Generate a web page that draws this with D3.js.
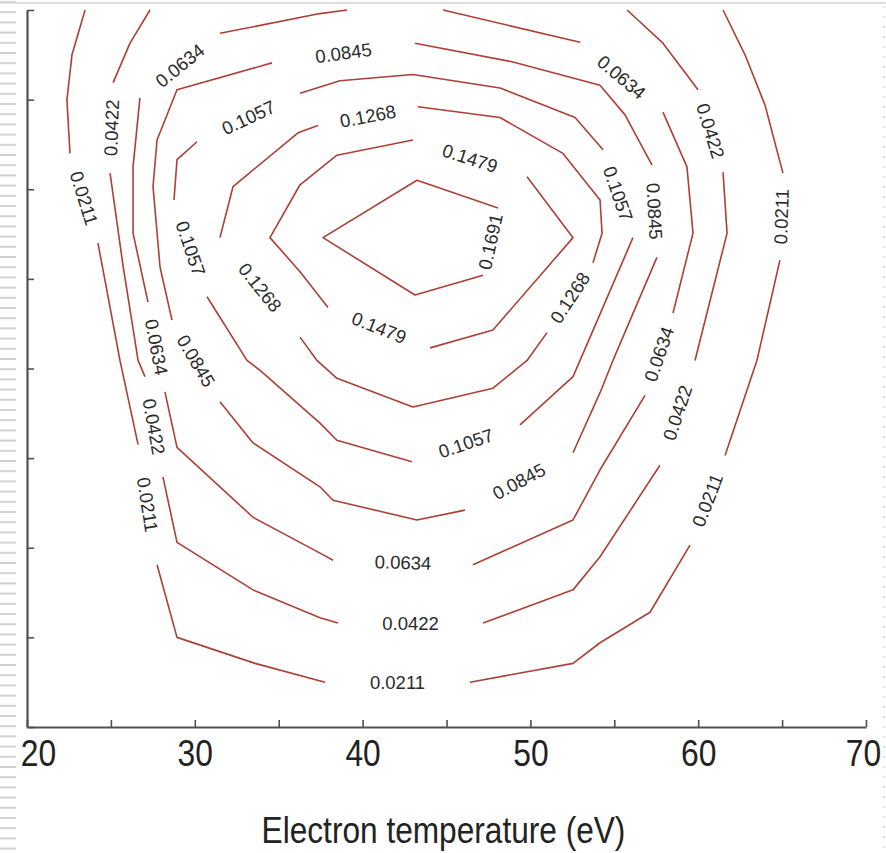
<!DOCTYPE html>
<html>
<head>
<meta charset="utf-8">
<script src="https://cdn.jsdelivr.net/npm/d3@7/dist/d3.min.js"></script>
<style>
  body { margin: 0; background: #fff; }
  svg { display: block; font-family: "Liberation Sans", Arial, Helvetica, sans-serif; }
</style>
</head>
<body>
<svg id="chart" width="886" height="853"></svg>
<script>
// Contour levels and which of them close on themselves
const levels = [0.0211, 0.0422, 0.0634, 0.0845, 0.1057, 0.1268, 0.1479, 0.1691];
const closedLevels = [false, false, false, true, true, true, true, true];

// Each contour is a list of pieces [temperature (eV), y]; a label sits in every gap between pieces
const line0211 = [
  [[23.46, 8.00], [22.68, 7.50], [22.38, 7.00], [22.56, 6.40]],
  [[24.23, 5.40], [25.54, 4.09], [26.62, 3.15]],
  [[27.75, 1.81], [28.94, 1.00], [33.59, 0.71], [37.76, 0.50]],
  [[46.40, 0.50], [52.54, 0.71], [54.15, 0.94], [57.13, 1.28], [59.51, 2.03]],
  [[61.60, 3.03], [63.50, 4.09], [64.87, 5.21]],
  [[65.05, 6.18], [63.98, 6.94], [62.79, 7.50], [61.48, 8.00]]
];
const line0422 = [
  [[27.33, 8.00], [26.14, 7.63], [25.13, 7.19]],
  [[24.95, 6.18], [25.72, 5.15], [26.62, 4.09], [27.03, 3.91]],
  [[28.10, 2.79], [28.94, 2.06], [33.47, 1.53], [37.46, 1.22], [38.53, 1.16]],
  [[47.18, 1.16], [52.54, 1.53], [54.15, 1.90], [57.72, 2.92]],
  [[59.81, 4.09], [61.72, 5.51], [61.48, 6.19]],
  [[59.99, 7.11], [57.90, 7.63], [55.76, 8.00]]
];
const line0634 = [
  [[39.07, 8.00], [37.46, 7.96], [31.50, 7.74]],
  [[26.73, 7.02], [26.32, 6.25], [26.32, 5.51], [27.21, 4.74]],
  [[28.22, 3.74], [28.94, 3.12], [33.47, 2.34], [37.46, 1.94], [38.24, 1.86]],
  [[46.58, 1.81], [52.54, 2.31], [54.15, 2.87], [56.83, 3.70]],
  [[58.50, 4.62], [59.69, 5.51], [59.33, 6.25], [57.90, 6.86]],
  [[52.96, 7.64], [44.79, 8.00]]
];
const line0845 = [
  [[43.12, 7.63], [48.96, 7.42], [54.15, 7.16], [55.64, 6.83], [57.25, 6.27]],
  [[57.54, 5.24], [54.92, 4.09], [54.15, 3.73], [52.54, 3.06]],
  [[46.10, 2.42], [43.24, 2.31], [38.24, 2.53], [37.46, 2.68], [33.47, 3.17], [31.50, 3.63]],
  [[28.64, 4.54], [27.93, 5.13], [27.51, 6.03], [27.75, 6.55], [28.94, 7.11], [34.60, 7.41]]
];
const line1057 = [
  [[36.27, 7.07], [38.65, 7.21], [43.00, 7.28], [48.19, 7.13], [52.66, 6.80], [54.33, 6.44]],
  [[56.11, 5.46], [52.96, 4.09], [52.54, 3.91], [49.38, 3.37]],
  [[42.94, 2.96], [38.47, 3.20], [37.46, 3.39], [33.89, 3.98], [33.11, 4.09], [30.73, 4.80]],
  [[28.76, 5.88], [28.94, 6.33], [30.13, 6.53]]
];
const line1268 = [
  [[43.30, 6.92], [48.19, 6.80], [51.94, 6.40], [54.15, 5.88], [54.27, 5.51], [53.73, 5.18]],
  [[50.99, 4.40], [49.80, 4.09], [47.77, 3.78], [43.00, 3.57], [38.47, 3.89], [37.28, 4.09], [36.27, 4.35]],
  [[31.50, 5.46], [32.28, 6.03], [36.15, 6.63], [37.34, 6.71]]
];
const line1479 = [
  [[49.80, 6.14], [52.54, 5.46], [47.77, 4.43], [44.02, 4.23]],
  [[37.94, 4.68], [36.27, 5.08], [34.48, 5.46], [36.27, 6.05], [38.47, 6.38], [43.00, 6.55]]
];
const line1691 = [
  [[47.18, 5.04], [43.12, 4.82], [37.64, 5.46], [43.24, 6.10], [48.07, 5.79]]
];
const contourLines = [line0211, line0422, line0634, line0845, line1057, line1268, line1479, line1691];

// Axis ticks
const xTicks = [20, 25, 30, 35, 40, 45, 50, 55, 60, 65, 70];
const xTickLabels = [20, 30, 40, 50, 60, 70];
const yTicks = [0, 1, 2, 3, 4, 5, 6, 7, 8];
const xTitle = "Electron temperature (eV)";

const svg = d3.select("#chart");
const W = 886, H = 853;

svg.append("rect").attr("width", W).attr("height", H).attr("fill", "#fff");

// page edge decoration: striped left margin, dotted right edge, thin top rule
const edge = svg.append("g").attr("class", "edge");
edge.selectAll("rect.stripe")
  .data(d3.range(1, H, 10.2))
  .join("rect")
  .attr("class", "stripe")
  .attr("x", 0).attr("y", d => d)
  .attr("width", 16).attr("height", 2)
  .attr("fill", "#d2d2d2");
edge.append("line")
  .attr("x1", 0).attr("x2", W).attr("y1", 3).attr("y2", 3)
  .attr("stroke", "#dedede").attr("stroke-width", 2);
edge.append("line")
  .attr("x1", 884).attr("x2", 884).attr("y1", 6).attr("y2", H)
  .attr("stroke", "#d4d4d4").attr("stroke-width", 1.5)
  .attr("stroke-dasharray", "2 8");

const x = d3.scaleLinear().domain([20, 70]).range([27, 866]);
const y = d3.scaleLinear().domain([0, 8]).range([727, 10]);

// contour lines
const lineGen = d3.line().x(d => x(d[0])).y(d => y(d[1]));
const contours = svg.append("g").attr("class", "contours");
contourLines.forEach((pieces, i) => {
  contours.selectAll(null)
    .data(pieces)
    .join("path")
    .attr("d", lineGen)
    .attr("fill", "none")
    .attr("stroke", "#ad3f36")
    .attr("stroke-width", 1.6)
    .attr("stroke-linejoin", "round");
});

// contour labels, centred in each gap and turned along it
const fmt = d3.format(".4f");
const labels = [];
contourLines.forEach((pieces, i) => {
  const n = pieces.length;
  const gaps = [];
  for (let k = 0; k < n - 1; k++) gaps.push([pieces[k][pieces[k].length - 1], pieces[k + 1][0]]);
  if (closedLevels[i]) gaps.push([pieces[n - 1][pieces[n - 1].length - 1], pieces[0][0]]);
  gaps.forEach(([a, b]) => {
    const x1 = x(a[0]), y1 = y(a[1]), x2 = x(b[0]), y2 = y(b[1]);
    let ang = Math.atan2(y2 - y1, x2 - x1) * 180 / Math.PI;
    if (ang > 90) ang -= 180;
    if (ang <= -90) ang += 180;
    labels.push({ text: fmt(levels[i]), cx: (x1 + x2) / 2, cy: (y1 + y2) / 2, ang });
  });
});
svg.append("g").attr("class", "contour-labels")
  .selectAll("text")
  .data(labels)
  .join("text")
  .attr("transform", d => `translate(${d.cx},${d.cy}) rotate(${d.ang})`)
  .attr("text-anchor", "middle")
  .attr("dominant-baseline", "central")
  .attr("font-size", 18.5)
  .attr("fill", "#2a2a2a")
  .text(d => d.text);

// axes
const axisColor = "#505050";
const xAxis = svg.append("g")
  .attr("transform", `translate(0,${y(0)})`)
  .call(d3.axisBottom(x)
    .tickValues(xTicks)
    .tickSizeInner(-7)
    .tickSizeOuter(0)
    .tickPadding(13)
    .tickFormat(d => xTickLabels.includes(d) ? d : ""));
xAxis.select(".domain").attr("stroke", axisColor).attr("stroke-width", 2.2);
xAxis.selectAll(".tick line").attr("stroke", axisColor).attr("stroke-width", 1.6);
// end labels are nudged inwards so they stay on the page
const edgeShift = v => (v === 20 ? 11 : v === 70 ? -3 : 0);
xAxis.selectAll(".tick text")
  .attr("font-size", 37)
  .attr("font-family", "Liberation Sans, Arial, sans-serif")
  .attr("fill", "#222")
  .attr("transform", d => `translate(${edgeShift(d)},0) scale(0.86,1)`);

const yAxis = svg.append("g")
  .attr("transform", `translate(${x(20)},0)`)
  .call(d3.axisLeft(y)
    .tickValues(yTicks)
    .tickSizeInner(-7)
    .tickSizeOuter(0)
    .tickFormat(""));
yAxis.select(".domain").attr("stroke", axisColor).attr("stroke-width", 2.2);
yAxis.selectAll(".tick line").attr("stroke", axisColor).attr("stroke-width", 1.6);

// axis title
svg.append("text")
  .attr("transform", `translate(${(x(20) + x(70)) / 2 - 3},843) scale(0.855,1)`)
  .attr("text-anchor", "middle")
  .attr("font-size", 37)
  .attr("fill", "#222")
  .text(xTitle);
</script>
</body>
</html>
